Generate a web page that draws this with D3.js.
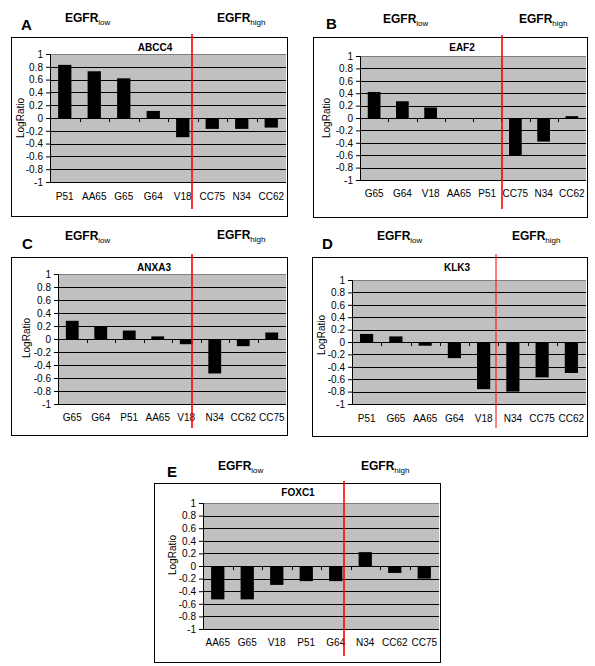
<!DOCTYPE html>
<html>
<head>
<meta charset="utf-8">
<script src="https://cdn.jsdelivr.net/npm/d3@7"></script>
<style>
  body { margin: 0; background: #fff; }
  svg { display: block; font-family: "Liberation Sans", Arial, sans-serif; }
</style>
</head>
<body>
<svg id="chart" width="595" height="666"></svg>
<script>
// ---- data ----
const yTicks = [1, 0.8, 0.6, 0.4, 0.2, 0, -0.2, -0.4, -0.6, -0.8, -1];
const yTickLabels = ["1", "0.8", "0.6", "0.4", "0.2", "0", "-0.2", "-0.4", "-0.6", "-0.8", "-1"];
const yAxisTitle = "LogRatio";
const groupLow = "low", groupHigh = "high";

const categoriesA = ["P51", "AA65", "G65", "G64", "V18", "CC75", "N34", "CC62"];
const valuesA = [0.83, 0.73, 0.62, 0.11, -0.30, -0.17, -0.17, -0.15];

const categoriesB = ["G65", "G64", "V18", "AA65", "P51", "CC75", "N34", "CC62"];
const valuesB = [0.42, 0.27, 0.17, 0, 0, -0.60, -0.38, 0.03];

const categoriesC = ["G65", "G64", "P51", "AA65", "V18", "N34", "CC62", "CC75"];
const valuesC = [0.28, 0.20, 0.13, 0.04, -0.08, -0.53, -0.11, 0.10];

const categoriesD = ["P51", "G65", "AA65", "G64", "V18", "N34", "CC75", "CC62"];
const valuesD = [0.13, 0.09, -0.06, -0.26, -0.76, -0.80, -0.57, -0.50];

const categoriesE = ["AA65", "G65", "V18", "P51", "G64", "N34", "CC62", "CC75"];
const valuesE = [-0.53, -0.53, -0.30, -0.24, -0.24, 0.22, -0.11, -0.20];

const panelLetters = ["A", "B", "C", "D", "E"];
const geneTitles = ["ABCC4", "EAF2", "ANXA3", "KLK3", "FOXC1"];

// ---- layout (positions only) ----
const layouts = [
  {box:[11,37,287,216], px:[50,286], py:[54,182], titleX:155, titleY:51, redX:192, redY:[34,209], redW:1.6,
   letter:[21,30], low:[65,22], high:[217,22], labY:199.5, ylab:[20,118]},
  {box:[313,37,587,217], px:[360,586], py:[56,180], titleX:462, titleY:51, redX:502, redY:[35,209], redW:1.6,
   letter:[326,29], low:[383,23], high:[519,23], labY:196.5, ylab:[326,118]},
  {box:[11,257,287,435], px:[58,286], py:[274,404], titleX:154, titleY:271, redX:192, redY:[254,428], redW:1.6,
   letter:[22,249], low:[65,240], high:[217,239], labY:421, ylab:[26,338]},
  {box:[312,257,587,436], px:[352,586], py:[280,404], titleX:457, titleY:271, redX:496, redY:[254,428], redW:1,
   letter:[322,249], low:[377,240], high:[512,240], labY:421.5, ylab:[321,335]},
  {box:[154,483,440,662], px:[203,439], py:[503,629], titleX:298, titleY:496, redX:344, redY:[481,656], redW:1.6,
   letter:[167,477], low:[218,470], high:[361,470], labY:646, ylab:[172,555]}
];

const panelData = [
  [categoriesA, valuesA], [categoriesB, valuesB], [categoriesC, valuesC],
  [categoriesD, valuesD], [categoriesE, valuesE]
];

const svg = d3.select("#chart");

panelData.forEach(([cats, vals], i) => {
  const L = layouts[i];
  const g = svg.append("g");

  // outer box
  g.append("rect")
    .attr("x", L.box[0] + 0.5).attr("y", L.box[1] + 0.5)
    .attr("width", L.box[2] - L.box[0]).attr("height", L.box[3] - L.box[1])
    .attr("fill", "#fff").attr("stroke", "#000").attr("stroke-width", 1);

  const x = d3.scaleBand().domain(cats).range(L.px).paddingInner(0.55).paddingOuter(0.275);
  const xb = d3.scaleBand().domain(cats).range(L.px);
  const y = d3.scaleLinear().domain([-1, 1]).range([L.py[1], L.py[0]]);

  // plot area
  g.append("rect")
    .attr("x", L.px[0]).attr("y", y(1))
    .attr("width", L.px[1] - L.px[0]).attr("height", y(-1) - y(1))
    .attr("fill", "#c0c0c0");
  g.append("line")
    .attr("x1", L.px[0]).attr("x2", L.px[1])
    .attr("y1", Math.round(y(1)) + 0.5).attr("y2", Math.round(y(1)) + 0.5)
    .attr("stroke", "#808080");

  // gridlines
  g.selectAll(".grid").data(yTicks.filter(t => t < 1)).enter().append("line")
    .attr("x1", L.px[0]).attr("x2", L.px[1])
    .attr("y1", d => Math.round(y(d)) + 0.5).attr("y2", d => Math.round(y(d)) + 0.5)
    .attr("stroke", "#000").attr("stroke-width", 1);

  // y axis
  const yAxis = d3.axisLeft(y).tickValues(yTicks)
    .tickFormat((d, k) => yTickLabels[k]).tickSize(4).tickPadding(3);
  const ya = g.append("g").attr("transform", `translate(${L.px[0]},0)`).call(yAxis);
  ya.select(".domain").attr("stroke", "#000");
  ya.selectAll("text").attr("font-size", 10).attr("fill", "#000")
    .attr("font-family", "Liberation Sans, Arial, sans-serif");
  ya.selectAll("line").attr("stroke", "#000");

  // bars
  g.selectAll(".bar").data(vals).enter().append("rect")
    .attr("x", (d, k) => x(cats[k]))
    .attr("y", d => y(Math.max(0, d)))
    .attr("width", x.bandwidth())
    .attr("height", d => Math.abs(y(d) - y(0)))
    .attr("fill", "#000");

  // category ticks on zero line
  g.selectAll(".ctick").data(cats.slice(1)).enter().append("line")
    .attr("x1", d => Math.round(xb(d)) + 0.5).attr("x2", d => Math.round(xb(d)) + 0.5)
    .attr("y1", y(0)).attr("y2", y(0) + 4)
    .attr("stroke", "#000");

  // category labels
  g.selectAll(".clab").data(cats).enter().append("text")
    .attr("x", d => xb(d) + xb.bandwidth() / 2)
    .attr("y", L.labY)
    .attr("text-anchor", "middle").attr("font-size", 10)
    .text(d => d);

  // gene title
  g.append("text").attr("x", L.titleX).attr("y", L.titleY)
    .attr("text-anchor", "middle").attr("font-size", 10).attr("font-weight", "bold")
    .text(geneTitles[i]);

  // y axis title
  g.append("text")
    .attr("transform", `translate(${L.ylab[0]},${L.ylab[1]}) rotate(-90)`)
    .attr("text-anchor", "middle").attr("dominant-baseline", "central")
    .attr("font-size", 10).text(yAxisTitle);

  // red separator
  g.append("line")
    .attr("x1", L.redX).attr("x2", L.redX)
    .attr("y1", L.redY[0]).attr("y2", L.redY[1])
    .attr("stroke", "#ff0000").attr("stroke-width", L.redW);

  // panel letter
  g.append("text").attr("x", L.letter[0]).attr("y", L.letter[1])
    .attr("font-size", 15).attr("font-weight", "bold").text(panelLetters[i]);

  // EGFR group labels
  [[L.low, groupLow], [L.high, groupHigh]].forEach(([pos, sub]) => {
    const t = g.append("text").attr("x", pos[0]).attr("y", pos[1])
      .attr("font-size", 12).attr("font-weight", "bold");
    t.append("tspan").text("EGFR");
    t.append("tspan").attr("font-size", 8).attr("font-weight", "normal")
      .attr("dy", 3).text(sub);
  });
});
</script>
</body>
</html>
